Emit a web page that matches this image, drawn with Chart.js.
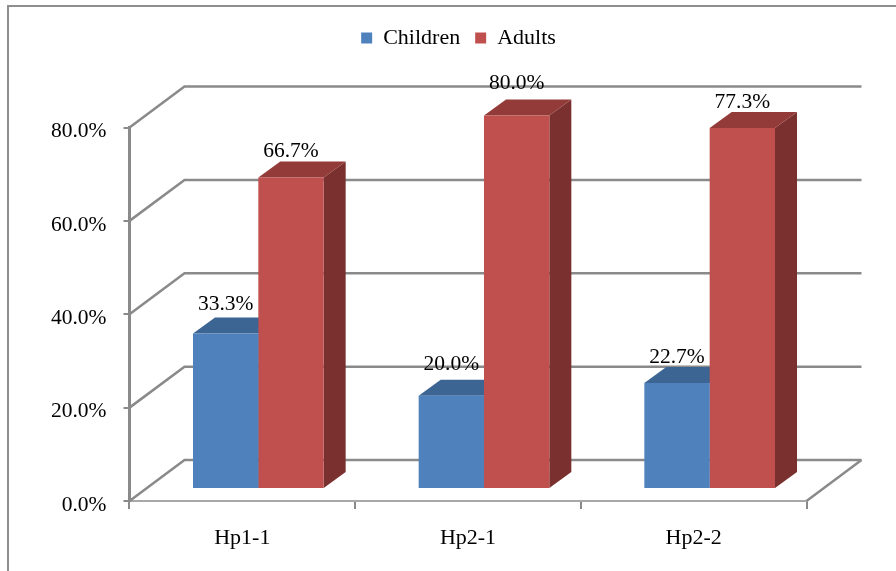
<!DOCTYPE html>
<html>
<head>
<meta charset="utf-8">
<script src="https://cdn.jsdelivr.net/npm/chart.js@4"></script>
<style>
  html, body { margin: 0; padding: 0; background: #fff; overflow: hidden; }
  #frame { position: absolute; left: 7px; top: 5px; width: 1000px; height: 1000px; border: 2px solid #8e8e8e; }
  canvas { position: absolute; left: 0; top: 0; }
</style>
</head>
<body>
<div id="frame"></div>
<canvas id="chart" width="896" height="571"></canvas>
<script>
const categories = ["Hp1-1", "Hp2-1", "Hp2-2"];
const children = [33.3, 20.0, 22.7];
const adults = [66.7, 80.0, 77.3];
const yTickLabels = ["0.0%", "20.0%", "40.0%", "60.0%", "80.0%"];

// fake Excel-style 3D: walls, bar faces and value labels hang off the real scales
const WALL = { dx: 55, dy: -41 };
const BAR_SHIFT = { x: 16, y: -12 };
const BAR_DEPTH = { dx: 22, dy: -16 };
const LINE = "#8a8a8a";
const FACES = [
  { top: "#3c6594", side: "#375b87" },
  { top: "#923b39", side: "#7a302e" },
];
// gap between bar top and its value label, per dataset then per category
const LABEL_GAPS = [[29, 31, 26], [26, 32, 26]];

const depth3d = {
  id: "depth3d",
  beforeDatasetsDraw(chart) {
    const { ctx, scales: { y, x } } = chart;
    ctx.save();
    ctx.strokeStyle = LINE;
    ctx.lineWidth = 2.5;
    y.ticks.forEach(t => {
      const py = y.getPixelForValue(t.value);
      ctx.beginPath();
      ctx.moveTo(x.left, py);
      ctx.lineTo(x.left + WALL.dx, py + WALL.dy);
      ctx.lineTo(x.right + WALL.dx, py + WALL.dy);
      ctx.stroke();
    });
    const py0 = y.getPixelForValue(0);
    ctx.beginPath();
    ctx.moveTo(x.right, py0);
    ctx.lineTo(x.right + WALL.dx, py0 + WALL.dy);
    ctx.stroke();
    // top and side faces go under every front face
    ctx.translate(BAR_SHIFT.x, BAR_SHIFT.y);
    chart.data.datasets.forEach((ds, i) => {
      const face = FACES[i];
      chart.getDatasetMeta(i).data.forEach(el => {
        const l = el.x - el.width / 2, r = el.x + el.width / 2;
        ctx.fillStyle = face.side;
        ctx.beginPath();
        ctx.moveTo(r, el.y);
        ctx.lineTo(r + BAR_DEPTH.dx, el.y + BAR_DEPTH.dy);
        ctx.lineTo(r + BAR_DEPTH.dx, el.base + BAR_DEPTH.dy);
        ctx.lineTo(r, el.base);
        ctx.fill();
        ctx.fillStyle = face.top;
        ctx.beginPath();
        ctx.moveTo(l, el.y);
        ctx.lineTo(l + BAR_DEPTH.dx, el.y + BAR_DEPTH.dy);
        ctx.lineTo(r + BAR_DEPTH.dx, el.y + BAR_DEPTH.dy);
        ctx.lineTo(r, el.y);
        ctx.fill();
      });
    });
    ctx.restore();
  },
  beforeDatasetDraw(chart) {
    chart.ctx.save();
    chart.ctx.translate(BAR_SHIFT.x, BAR_SHIFT.y);
  },
  afterDatasetDraw(chart) {
    chart.ctx.restore();
  },
  afterDatasetsDraw(chart) {
    const { ctx } = chart;
    ctx.save();
    ctx.fillStyle = "#000";
    ctx.font = "21.5px 'Liberation Serif'";
    ctx.textAlign = "center";
    ctx.textBaseline = "middle";
    chart.data.datasets.forEach((ds, i) => {
      chart.getDatasetMeta(i).data.forEach((el, j) => {
        ctx.fillText(ds.data[j].toFixed(1) + "%", el.x + BAR_SHIFT.x, el.y + BAR_SHIFT.y - LABEL_GAPS[i][j]);
      });
    });
    ctx.restore();
  },
};

Chart.defaults.font.family = "'Liberation Serif'";
Chart.defaults.font.size = 21.5;
Chart.defaults.color = "#000";

new Chart(document.getElementById("chart"), {
  type: "bar",
  data: {
    labels: categories,
    datasets: [
      { label: "Children", data: children, backgroundColor: "#4f81bd", clip: false },
      { label: "Adults", data: adults, backgroundColor: "#c0504d", clip: false },
    ],
  },
  options: {
    responsive: false,
    animation: false,
    categoryPercentage: 0.579,
    barPercentage: 1,
    layout: { padding: { left: 21, top: 12, right: 0, bottom: 0 } },
    plugins: {
      tooltip: { enabled: false },
      legend: {
        position: "top",
        labels: { boxWidth: 11, boxHeight: 11, padding: 15, color: "#000", font: { size: 22 } },
      },
    },
    scales: {
      x: {
        grid: { drawOnChartArea: false, color: LINE, lineWidth: 2, tickLength: 8, offset: true },
        border: { color: "#a8a8a8", width: 2 },
        ticks: { padding: 16, maxRotation: 0, font: { size: 22 } },
        afterFit: s => { s.height = 70; },
      },
      y: {
        min: 0,
        max: 80,
        grid: { drawOnChartArea: false, color: LINE, lineWidth: 2, tickLength: 6 },
        border: { color: LINE, width: 3 },
        ticks: { stepSize: 20, padding: 17, labelOffset: 4, callback: (v, i) => yTickLabels[i] },
        afterFit: s => { s.width = 108.5; },
      },
      // empty axes, only there to hold the plot area in place
      spacerTop: {
        axis: "x",
        type: "category",
        position: "top",
        labels: [""],
        grid: { display: false },
        border: { display: false },
        ticks: { display: false },
        afterFit: s => { s.height = 68.5; },
      },
      spacerRight: {
        axis: "y",
        type: "linear",
        position: "right",
        grid: { display: false },
        border: { display: false },
        ticks: { display: false },
        afterFit: s => { s.width = 89.5; },
      },
    },
  },
  plugins: [depth3d],
});
</script>
</body>
</html>
